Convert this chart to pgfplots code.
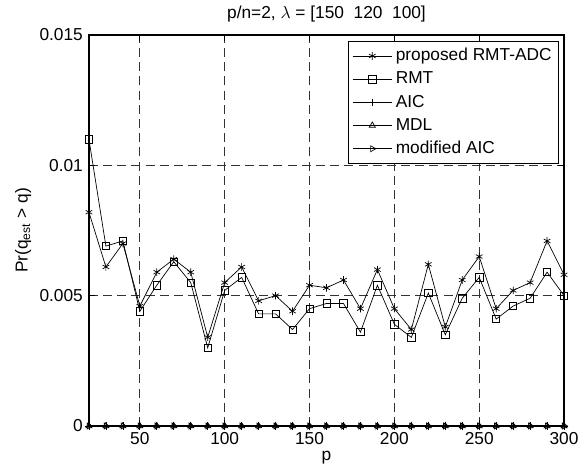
\documentclass[border=0pt]{standalone}
\usepackage{pgfplots}
\pgfplotsset{compat=1.18}
\usepackage{fontspec}
\setmainfont{Liberation Sans}
\setsansfont{Liberation Sans}
\begin{document}
\begin{tikzpicture}
\begin{axis}[
  scale only axis,
  width=274.6pt, height=226pt,
  xmin=20, xmax=300, ymin=0, ymax=0.015,
  xtick={50,100,150,200,250,300},
  xticklabels={50,100,150,200,250,300},
  ytick={0,0.005,0.01,0.015},
  yticklabels={0,0.005,0.01,0.015},
  scaled y ticks=false,
  tick align=inside,
  major tick length=3.5pt,
  tick style={black, line width=0.4pt},
  axis line style={line width=0.9pt},
  grid=major,
  major grid style={dash pattern=on 5.2pt off 3pt, black!80, line width=0.45pt},
  title={p/n=2, \(\lambda\) = [150\ \ 120\ \ 100]},
  title style={yshift=-2pt},
  xlabel={p},
  ylabel={Pr(q\textsubscript{est} > q)},
  xlabel style={yshift=3pt},
  ylabel style={yshift=-2pt},
  tick label style={font=\normalsize},
  legend style={at={(1,1)}, anchor=north east, xshift=-2.9pt, yshift=-3.5pt,
    draw=black, line width=0.6pt, font=\normalsize, inner sep=2pt,
    row sep=0.9pt, cells={anchor=west}},
  legend image code/.code={\draw[mark repeat=2,mark phase=2,line width=0.4pt] plot coordinates {(0cm,0cm) (0.4cm,0cm) (0.8cm,0cm)};},
]
\addplot[black, line width=0.4pt, mark=asterisk, mark size=2.2pt, mark options={solid,black}] coordinates {
(20,0.0082) (30,0.0061) (40,0.0070) (50,0.0046) (60,0.0059) (70,0.0064) (80,0.0059) (90,0.0034) (100,0.0055) (110,0.0061)
(120,0.0048) (130,0.0050) (140,0.0044) (150,0.0054) (160,0.0053) (170,0.0056) (180,0.0045) (190,0.0060) (200,0.0045) (210,0.0037)
(220,0.0062) (230,0.0038) (240,0.0056) (250,0.0065) (260,0.0045) (270,0.0052) (280,0.0055) (290,0.0071) (300,0.0058)};
\addlegendentry{proposed RMT-ADC}
\addplot[black, line width=0.4pt, mark=square, mark size=2.1pt, mark options={solid,black}] coordinates {
(20,0.0110) (30,0.0069) (40,0.0071) (50,0.0044) (60,0.0054) (70,0.0063) (80,0.0055) (90,0.0030) (100,0.0052) (110,0.0057)
(120,0.0043) (130,0.0043) (140,0.0037) (150,0.0045) (160,0.0047) (170,0.0047) (180,0.0036) (190,0.0054) (200,0.0039) (210,0.0034)
(220,0.0051) (230,0.0035) (240,0.0049) (250,0.0057) (260,0.0041) (270,0.0046) (280,0.0049) (290,0.0059) (300,0.0050)};
\addlegendentry{RMT}
\addplot[black, line width=0.4pt, mark=+, mark size=2.2pt, mark options={solid,black}] coordinates {
(20,0) (30,0) (40,0) (50,0) (60,0) (70,0) (80,0) (90,0) (100,0) (110,0)
(120,0) (130,0) (140,0) (150,0) (160,0) (170,0) (180,0) (190,0) (200,0) (210,0)
(220,0) (230,0) (240,0) (250,0) (260,0) (270,0) (280,0) (290,0) (300,0)};
\addlegendentry{AIC}
\addplot[black, line width=0.4pt, mark=triangle, mark size=2pt, mark options={solid,black}] coordinates {
(20,0) (30,0) (40,0) (50,0) (60,0) (70,0) (80,0) (90,0) (100,0) (110,0)
(120,0) (130,0) (140,0) (150,0) (160,0) (170,0) (180,0) (190,0) (200,0) (210,0)
(220,0) (230,0) (240,0) (250,0) (260,0) (270,0) (280,0) (290,0) (300,0)};
\addlegendentry{MDL}
\addplot[black, line width=0.4pt, mark=triangle, mark size=2pt, mark options={solid,black,rotate=-90}] coordinates {
(20,0) (30,0) (40,0) (50,0) (60,0) (70,0) (80,0) (90,0) (100,0) (110,0)
(120,0) (130,0) (140,0) (150,0) (160,0) (170,0) (180,0) (190,0) (200,0) (210,0)
(220,0) (230,0) (240,0) (250,0) (260,0) (270,0) (280,0) (290,0) (300,0)};
\addlegendentry{modified AIC}
\end{axis}
\pgfresetboundingbox
\useasboundingbox (current axis.south west) ++(-51.4pt,-24.3pt) rectangle ([xshift=12.1pt,yshift=20.2pt]current axis.north east);
\end{tikzpicture}
\end{document}
